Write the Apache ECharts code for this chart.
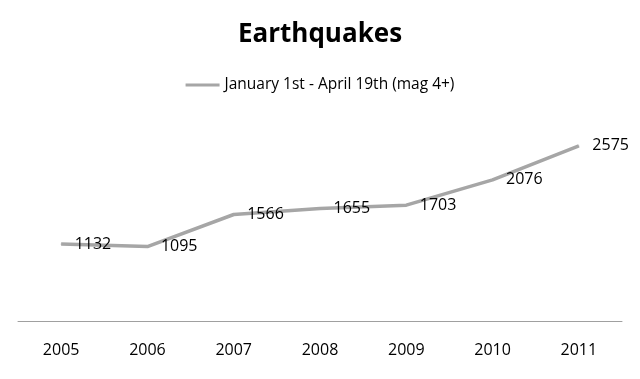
<!DOCTYPE html>
<html><head><meta charset="utf-8">
<script src="https://cdn.jsdelivr.net/npm/echarts@6/dist/echarts.min.js"></script>
<style>html,body{margin:0;padding:0;background:#fff}#c{width:640px;height:379px}</style>
</head><body><div id="c"></div>
<script>
const categories = ['2005','2006','2007','2008','2009','2010','2011'];
const quakes = [1132, 1095, 1566, 1655, 1703, 2076, 2575];
const seriesName = 'January 1st - April 19th (mag 4+)';
const titleText = 'Earthquakes';
const FONT = '"Open Sans", "Noto Sans", sans-serif';
const chart = echarts.init(document.getElementById('c'), null, {renderer:'canvas'});
chart.setOption({
  animation:false,
  backgroundColor:'#ffffff',
  title:{text:titleText,left:'center',top:17,textStyle:{fontFamily:FONT,fontWeight:'bold',fontSize:26,color:'#000'}},
  legend:{data:[{name:seriesName,icon:'rect'}],top:72,left:'center',itemWidth:34,itemHeight:3,itemGap:4,
    textStyle:{fontFamily:FONT,fontSize:15.5,color:'#000'},itemStyle:{color:'#a6a6a6'}},
  grid:{left:18,right:18,top:117,bottom:58,containLabel:false},
  xAxis:{type:'category',data:categories,boundaryGap:true,
    axisLine:{lineStyle:{color:'#a0a0a0',width:1}},axisTick:{show:false},
    axisLabel:{fontFamily:FONT,fontSize:16,color:'#000',margin:21}},
  yAxis:{type:'value',min:0,max:3000,show:false,splitLine:{show:false}},
  series:[{name:seriesName,type:'line',data:quakes,symbol:'circle',symbolSize:1,showSymbol:true,
    lineStyle:{color:'#a6a6a6',width:3.5},itemStyle:{color:'#a6a6a6'},
    label:{show:true,position:'right',distance:13,fontFamily:FONT,fontSize:16,color:'#000'}}]
});
</script></body></html>
